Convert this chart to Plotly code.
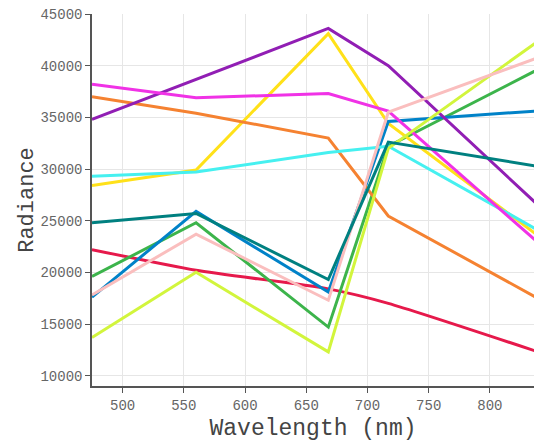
import plotly.graph_objects as go

wavelengths = [475, 560, 668, 717, 842]

red = [22200, 20200, 18400, 17000, 12200]
green = [19600, 24800, 14700, 32200, 39800]
yellow = [28400, 29900, 43100, 34400, 23300]
blue = [17600, 25900, 18100, 34600, 35650]
orange = [37000, 35400, 33000, 25450, 17300]
purple = [34800, 38700, 43600, 40000, 26200]
cyan = [29300, 29700, 31600, 32200, 23900]
magenta = [38200, 36900, 37300, 35600, 22600]
lime = [13700, 20000, 12300, 32000, 42600]
pink = [17800, 23700, 17300, 35500, 40900]
teal = [24800, 25700, 19300, 32600, 30200]

series = [
    ("red", red, "#e6194b", "spline"),
    ("green", green, "#3cb44b", "linear"),
    ("yellow", yellow, "#ffe119", "linear"),
    ("blue", blue, "#0082c8", "linear"),
    ("orange", orange, "#f58231", "linear"),
    ("purple", purple, "#911eb4", "linear"),
    ("cyan", cyan, "#46f0f0", "linear"),
    ("magenta", magenta, "#f032e6", "linear"),
    ("lime", lime, "#d2f53c", "linear"),
    ("pink", pink, "#fabebe", "linear"),
    ("teal", teal, "#008080", "linear"),
]

fig = go.Figure()
for name, vals, color, shape in series:
    fig.add_trace(go.Scatter(
        x=wavelengths, y=vals, mode="lines", name=name,
        line=dict(color=color, width=3, shape=shape, smoothing=0.6),
        showlegend=False,
    ))

mono = "Liberation Mono, Courier New, monospace"
fig.update_layout(
    width=534, height=442,
    margin=dict(l=92, r=0, t=14, b=56),
    paper_bgcolor="white", plot_bgcolor="white",
    font=dict(family=mono, color="#555555"),
)
fig.update_xaxes(
    range=[475, 836], dtick=50, tick0=500,
    showgrid=True, gridcolor="#e6e6e6", gridwidth=1,
    showline=True, linecolor="#555555", linewidth=1.5,
    ticks="outside", ticklen=5, tickcolor="#555555",
    tickfont=dict(family=mono, size=14, color="#666666"),
    zeroline=False,
    title=dict(text="Wavelength (nm)", font=dict(family=mono, size=23, color="#444444"), standoff=8),
)
fig.update_yaxes(
    range=[9000, 45000], dtick=5000, tick0=10000, tickformat="d",
    showgrid=True, gridcolor="#e6e6e6", gridwidth=1,
    showline=True, linecolor="#555555", linewidth=1.5,
    ticks="outside", ticklen=5, tickcolor="#555555",
    tickfont=dict(family=mono, size=14, color="#666666"),
    zeroline=False,
    title=dict(text="Radiance", font=dict(family=mono, size=22, color="#444444"), standoff=0),
)

fig.write_html("out.html")
